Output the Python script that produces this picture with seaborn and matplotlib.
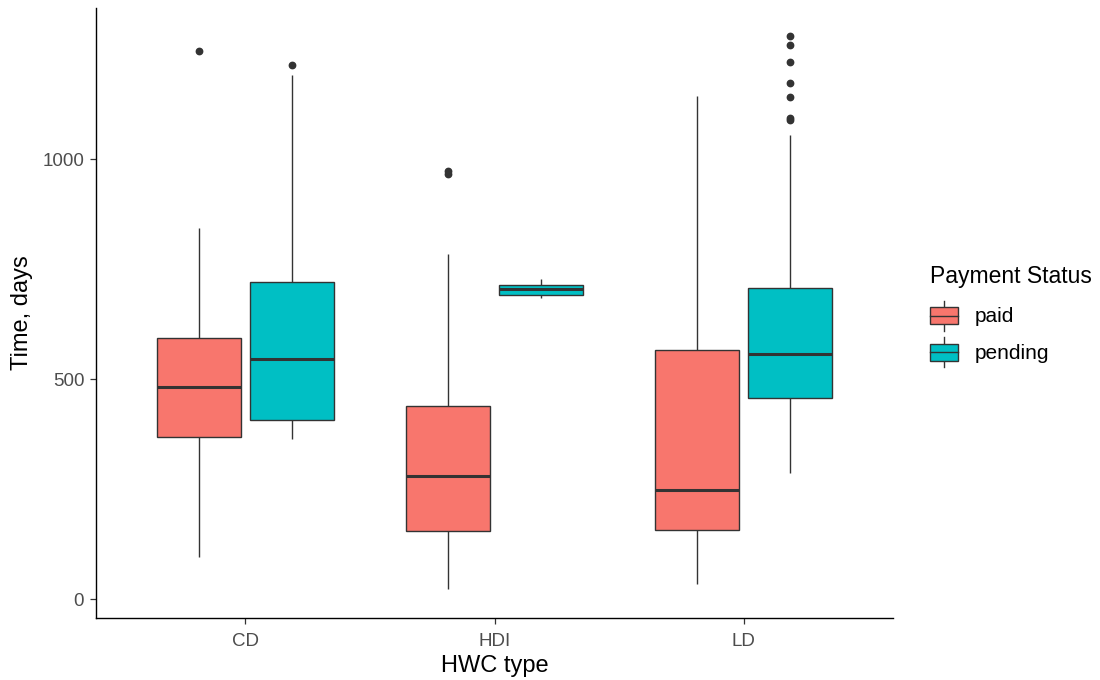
import pandas as pd
import seaborn as sns
import matplotlib.pyplot as plt
from matplotlib.legend_handler import HandlerBase
from matplotlib.patches import Rectangle, Patch
from matplotlib.lines import Line2D

# five-number summaries, one entry per (HWC type, status)
hwc_types = ["CD", "CD", "HDI", "HDI", "LD", "LD"]
status = ["paid", "pending", "paid", "pending", "paid", "pending"]
whisker_low = [95, 364, 22, 685, 35, 286]
q1 = [368, 407, 155, 692, 158, 456]
median = [483, 545, 280, 704, 248, 556]
q3 = [594, 721, 438, 714, 565, 708]
whisker_high = [843, 1190, 785, 727, 1143, 1055]
outliers = [
    [1246],
    [1214],
    [967, 973],
    [],
    [],
    [1088, 1093, 1141, 1174, 1221, 1259, 1280],
]

ORDER = ["CD", "HDI", "LD"]
STATUS_ORDER = ["paid", "pending"]
COLORS = ["#F8766D", "#00BFC4"]
EDGE = "#333333"


def observations(lo, a, m, b, hi, out):
    # 4k+1 sorted values so that the quartiles fall exactly on a, m, b
    k = len(out) + 1
    return [lo] + [a] * k + [m] * k + [b] * k + [hi] + list(out)


rows = []
for i in range(len(hwc_types)):
    for v in observations(whisker_low[i], q1[i], median[i], q3[i], whisker_high[i], outliers[i]):
        rows.append({"HWC type": hwc_types[i], "Payment Status": status[i], "Time": v})
df = pd.DataFrame(rows)


class BoxKey(HandlerBase):
    def create_artists(self, legend, orig_handle, xdescent, ydescent,
                       width, height, fontsize, trans):
        x0, y0 = -xdescent, -ydescent
        cx = x0 + width / 2
        lo, hi = y0 + height * 0.22, y0 + height * 0.78
        box = Rectangle((x0, lo), width, hi - lo, facecolor=orig_handle.get_facecolor(),
                        edgecolor=EDGE, lw=1.0, transform=trans)
        med = Line2D([x0, x0 + width], [(lo + hi) / 2] * 2, color=EDGE, lw=1.0, transform=trans)
        w1 = Line2D([cx, cx], [y0, lo], color=EDGE, lw=1.0, transform=trans)
        w2 = Line2D([cx, cx], [hi, y0 + height], color=EDGE, lw=1.0, transform=trans)
        return [w1, w2, box, med]


plt.rcParams["font.family"] = ["Liberation Sans", "DejaVu Sans"]

fig = plt.figure(figsize=(11, 6.8), dpi=100)
ax = fig.add_axes([0.0873, 0.0912, 0.7245, 0.8968])

sns.boxplot(
    data=df, x="HWC type", y="Time", hue="Payment Status",
    order=ORDER, hue_order=STATUS_ORDER, palette=COLORS, saturation=1,
    width=0.75, gap=0.1, linecolor=EDGE, linewidth=1.0,
    fliersize=4.6, showcaps=False, whis=1.5,
    medianprops=dict(linewidth=2.2, color=EDGE),
    flierprops=dict(marker="o", markerfacecolor=EDGE, markeredgecolor=EDGE),
    ax=ax,
)

ax.set_xlim(-0.6, 2.6)
ax.set_ylim(-43, 1343)
ax.set_yticks([0, 500, 1000])

sns.despine(ax=ax)
for side in ["left", "bottom"]:
    ax.spines[side].set_color("black")
    ax.spines[side].set_linewidth(1.0)

ax.tick_params(axis="both", length=4.5, width=0.9, color=EDGE,
               labelcolor="#4D4D4D", labelsize=13.5, pad=4)
ax.tick_params(axis="x", pad=6)
ax.set_xlabel("HWC type", fontsize=17, labelpad=4)
ax.set_ylabel("Time, days", fontsize=17, labelpad=7)

ax.get_legend().remove()
handles = [Patch(facecolor=c) for c in COLORS]
fig.legend(
    handles, STATUS_ORDER, title="Payment Status",
    loc="upper left", bbox_to_anchor=(0.845, 0.61),
    frameon=False, borderpad=0, borderaxespad=0, fontsize=15, title_fontsize=16.5,
    alignment="left", handler_map={Patch: BoxKey()},
    handlelength=1.35, handleheight=1.85, labelspacing=0.3, handletextpad=0.8,
)
fig.legends[0]._legend_box.sep = 9

fig.savefig("out.png", dpi=100)
